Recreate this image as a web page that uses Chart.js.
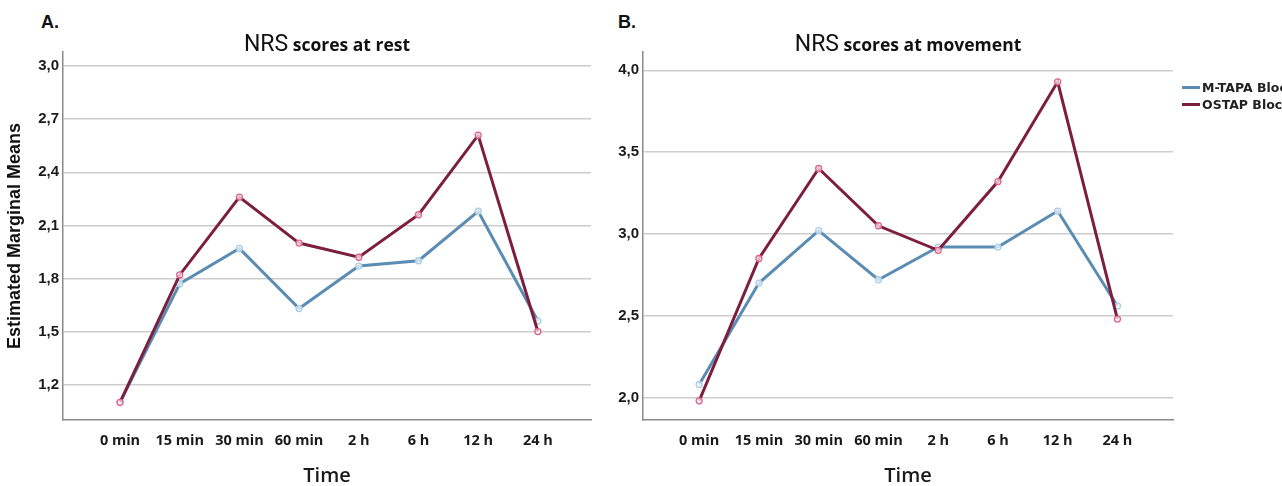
<!DOCTYPE html>
<html>
<head>
<meta charset="utf-8">
<script src="https://cdn.jsdelivr.net/npm/chart.js@4/dist/chart.umd.min.js"></script>
<style>
  body { margin: 0; width: 1282px; height: 486px; overflow: hidden; background: #fff; position: relative; }
  canvas { position: absolute; top: 0; }
  .letter { position: absolute; top: 13px; font: bold 18px "Liberation Sans", Arial, sans-serif; line-height: 1; color: #111; }
  .leg { position: absolute; left: 1182px; height: 16px; display: flex; align-items: center; white-space: nowrap; }
  .leg span.line { display: inline-block; width: 18px; height: 3px; }
  .leg span.txt { margin-left: 2px; font: bold 12.5px "DejaVu Sans", sans-serif; color: #222; }
</style>
</head>
<body>
<div class="letter" style="left:41px">A.</div>
<div class="letter" style="left:618px">B.</div>
<canvas id="restChart" width="600" height="486" style="left:0;width:600px;height:486px"></canvas>
<canvas id="moveChart" width="702" height="486" style="left:580px;width:702px;height:486px"></canvas>
<div id="legend"></div>
<script>
// data
const timeLabels = ["0 min", "15 min", "30 min", "60 min", "2 h", "6 h", "12 h", "24 h"];
const seriesNames = ["M-TAPA Block", "OSTAP Block"];

const restMTAPA = [1.10, 1.77, 1.97, 1.63, 1.87, 1.90, 2.18, 1.56];
const restOSTAP = [1.10, 1.82, 2.26, 2.00, 1.92, 2.16, 2.61, 1.50];
const moveMTAPA = [2.08, 2.70, 3.02, 2.72, 2.92, 2.92, 3.14, 2.56];
const moveOSTAP = [1.98, 2.85, 3.40, 3.05, 2.90, 3.32, 3.93, 2.48];

const restTicks = [1.2, 1.5, 1.8, 2.1, 2.4, 2.7, 3.0];
const moveTicks = [2.0, 2.5, 3.0, 3.5, 4.0];

const lineColors = ["#5b8cb3", "#7c1f3f"];
const pointColors = ["#a9cde6", "#e0608a"];

// title with "NRS" in a lighter face and the rest bold
const mixedTitle = {
  id: "mixedTitle",
  afterDraw(chart, args, opts) {
    const ctx = chart.ctx;
    const area = chart.chartArea;
    ctx.save();
    ctx.fillStyle = "#111";
    ctx.textBaseline = "alphabetic";
    ctx.font = "400 23px Roboto";
    const w1 = ctx.measureText(opts.lead).width;
    ctx.font = '700 17.5px "Open Sans"';
    const w2 = ctx.measureText(" " + opts.rest).width;
    let x = (area.left + area.right) / 2 - (w1 + w2) / 2;
    ctx.font = "400 23px Roboto";
    ctx.fillText(opts.lead, x, 50.5);
    ctx.font = '700 17.5px "Open Sans"';
    ctx.fillText(" " + opts.rest, x + w1, 50.5);
    ctx.restore();
  }
};

function fmt(v) {
  return v.toFixed(1).replace(".", ",");
}

function makeChart(id, series, yTicks, xMin, xMax, yMin, yMax, padRight, rest, yTitle) {
  const datasets = series.map((vals, k) => ({
    label: seriesNames[k],
    data: vals.map((v, i) => ({ x: i, y: v })),
    borderColor: lineColors[k],
    borderWidth: 3,
    pointRadius: 3,
    pointBorderWidth: 1.3,
    pointBorderColor: pointColors[k],
    pointBackgroundColor: "rgba(255,255,255,0.7)",
    tension: 0
  }));
  // red on top
  datasets.reverse();

  return new Chart(document.getElementById(id), {
    type: "line",
    data: { datasets: datasets },
    options: {
      responsive: false,
      animation: false,
      layout: { padding: { top: 52, right: padRight, left: 0, bottom: 0 } },
      plugins: {
        legend: { display: false },
        tooltip: { enabled: false },
        mixedTitle: { lead: "NRS", rest: rest }
      },
      scales: {
        x: {
          type: "linear",
          min: xMin,
          max: xMax,
          afterBuildTicks: (s) => { s.ticks = timeLabels.map((_, i) => ({ value: i })); },
          afterFit: (s) => { s.height = 66; },
          grid: { display: false, drawTicks: false },
          border: { color: "#8a8a8a", width: 1.5 },
          ticks: {
            padding: 12,
            color: "#1a1a1a",
            autoSkip: false,
            maxRotation: 0,
            font: { family: "Open Sans", size: 14.5, weight: "700" },
            callback: (v) => timeLabels[v]
          },
          title: {
            display: true,
            text: "Time",
            color: "#1a1a1a",
            padding: 0,
            font: { family: "Open Sans", size: 20, weight: "600", lineHeight: 1 }
          }
        },
        y: {
          min: yMin,
          max: yMax,
          afterBuildTicks: (s) => { s.ticks = yTicks.map((v) => ({ value: v })); },
          afterFit: (s) => { s.width = 63; },
          grid: { color: "#cdcdcd", lineWidth: 1.5, drawTicks: false },
          border: { color: "#8a8a8a", width: 1.5 },
          ticks: {
            padding: 4,
            color: "#1a1a1a",
            font: { family: "Liberation Sans", size: 15, weight: "bold" },
            callback: (v) => fmt(v)
          },
          title: {
            display: !!yTitle,
            text: yTitle || "",
            color: "#111",
            padding: { top: 4, bottom: 0 },
            font: { family: "Liberation Sans", size: 18, weight: "bold" }
          }
        }
      }
    },
    plugins: [mixedTitle]
  });
}

makeChart("restChart", [restMTAPA, restOSTAP], restTicks, -0.955, 7.89, 1.0, 3.08, 9,
  "scores at rest", "Estimated Marginal Means");
makeChart("moveChart", [moveMTAPA, moveOSTAP], moveTicks, -0.94, 7.93, 1.863, 4.112, 109,
  "scores at movement", null);

// legend on the right edge, clipped by the page like the original
const legend = document.getElementById("legend");
const legendTops = [79, 96];
seriesNames.forEach((name, k) => {
  const row = document.createElement("div");
  row.className = "leg";
  row.style.top = legendTops[k] + "px";
  row.innerHTML = '<span class="line" style="background:' + lineColors[k] + '"></span><span class="txt">' + name + "</span>";
  legend.appendChild(row);
});
</script>
</body>
</html>
